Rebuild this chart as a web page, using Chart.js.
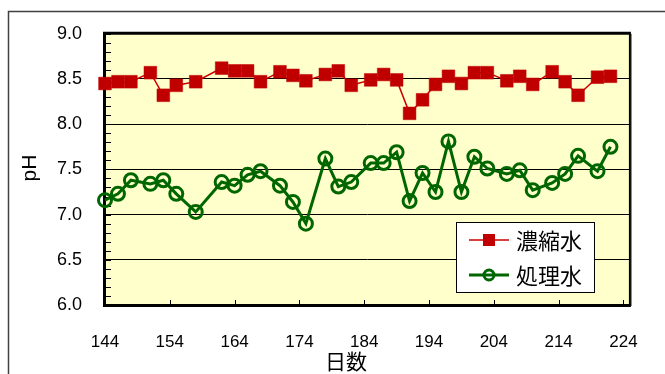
<!DOCTYPE html>
<html><head><meta charset="utf-8">
<script src="https://cdn.jsdelivr.net/npm/chart.js@4/dist/chart.umd.min.js"></script>
<style>html,body{margin:0;padding:0;background:#fff;}#wrap{width:665px;height:374px;position:relative;}</style>
</head><body><div id="wrap"><canvas id="c" width="665" height="374"></canvas></div>
<script>
const days = [144,146,148,151,153,155,158,162,164,166,168,171,173,175,178,180,182,185,187,189,191,193,195,197,199,201,203,206,208,210,213,215,217,220,222];
const concentrate = [8.45,8.47,8.47,8.57,8.32,8.43,8.47,8.62,8.59,8.59,8.47,8.58,8.54,8.48,8.55,8.59,8.43,8.49,8.55,8.49,8.12,8.27,8.44,8.53,8.45,8.57,8.57,8.48,8.53,8.44,8.58,8.47,8.32,8.52,8.53];
const treated = [7.16,7.23,7.38,7.34,7.38,7.23,7.03,7.36,7.32,7.44,7.48,7.32,7.14,6.90,7.62,7.31,7.36,7.57,7.57,7.69,7.15,7.46,7.25,7.81,7.25,7.64,7.51,7.45,7.49,7.27,7.35,7.45,7.65,7.48,7.75];
const xTicks = [144,154,164,174,184,194,204,214,224];
const yTicks = [6.0,6.5,7.0,7.5,8.0,8.5,9.0];
const seriesNames = ['濃縮水','処理水'];
const xTitle = '日数';
const yTitle = 'pH';

const JP = '"Noto Sans CJK JP", sans-serif';
const LAT = '"Liberation Sans", Arial, sans-serif';

const decor = {
  id: 'decor',
  beforeDraw(chart) {
    const {ctx, chartArea: a} = chart;
    ctx.save();
    ctx.fillStyle = '#fff';
    ctx.fillRect(0, 0, chart.width, chart.height);
    ctx.strokeStyle = '#404040';
    ctx.lineWidth = 1.5;
    ctx.strokeRect(8.5, 11.5, chart.width + 40, chart.height + 40);
    ctx.fillStyle = '#FFFFCC';
    ctx.fillRect(a.left, a.top, a.width, a.height);
    ctx.restore();
  },
  beforeDatasetsDraw(chart) {
    const {ctx, chartArea: a, scales} = chart;
    const ys = scales.y, xs = scales.x;
    ctx.save();
    ctx.strokeStyle = '#000';
    ctx.lineWidth = 1;
    ctx.beginPath();
    for (let i = 0; i <= 30; i++) {
      const v = 6 + i / 10;
      const y = Math.round(ys.getPixelForValue(v)) + 0.5;
      ctx.moveTo(a.left, y); ctx.lineTo(a.left + 6, y);
    }
    xTicks.forEach(v => {
      const x = Math.round(xs.getPixelForValue(v)) + 0.5;
      ctx.moveTo(x, a.bottom); ctx.lineTo(x, a.bottom - 5);
    });
    ctx.stroke();
    ctx.strokeStyle = '#808080';
    ctx.lineWidth = 1;
    ctx.beginPath(); ctx.moveTo(a.right + 1.5, a.top); ctx.lineTo(a.right + 1.5, a.bottom + 1); ctx.stroke();
    ctx.strokeStyle = '#000';
    ctx.lineWidth = 2;
    ctx.beginPath(); ctx.moveTo(a.right, a.top); ctx.lineTo(a.right, a.bottom); ctx.stroke();
    ctx.lineWidth = 3;
    ctx.beginPath();
    ctx.moveTo(a.right + 1, a.top - 0.5);
    ctx.lineTo(a.left - 0.5, a.top - 0.5);
    ctx.lineTo(a.left - 0.5, a.bottom + 0.5);
    ctx.lineTo(a.right + 1, a.bottom + 0.5);
    ctx.stroke();
    ctx.restore();
  },
  afterDraw(chart) {
    const {ctx} = chart;
    ctx.save();
    ctx.fillStyle = '#000';
    ctx.textAlign = 'center';
    ctx.textBaseline = 'middle';
    ctx.font = '21px ' + JP;
    ctx.fillText(xTitle, 346, 361);
    ctx.save();
    ctx.translate(30, 168);
    ctx.rotate(-Math.PI / 2);
    ctx.font = '21px ' + LAT;
    ctx.fillText(yTitle, 0, 0);
    ctx.restore();
    const lx = 456, ly = 222, lw = 138, lh = 70;
    ctx.fillStyle = '#fff';
    ctx.fillRect(lx, ly, lw, lh);
    ctx.strokeStyle = '#000';
    ctx.lineWidth = 1;
    ctx.strokeRect(lx + 0.5, ly + 0.5, lw, lh);
    const rows = [240, 275];
    chart.data.datasets.forEach((ds, i) => {
      const y = rows[i];
      ctx.strokeStyle = ds.borderColor;
      ctx.lineWidth = ds.borderWidth;
      ctx.beginPath(); ctx.moveTo(469, y); ctx.lineTo(509, y); ctx.stroke();
      ctx.fillStyle = ds.pointBackgroundColor;
      ctx.strokeStyle = ds.pointBorderColor;
      ctx.lineWidth = ds.pointBorderWidth;
      ctx.beginPath();
      if (ds.pointStyle === 'rect') {
        const s = ds.legendRadius;
        ctx.rect(489 - s, y - s, 2 * s, 2 * s);
        ctx.fill();
      } else {
        ctx.arc(489, y, ds.legendRadius, 0, Math.PI * 2);
        ctx.stroke();
      }
      ctx.fillStyle = '#000';
      ctx.textAlign = 'left';
      ctx.textBaseline = 'middle';
      ctx.font = '22px ' + JP;
      ctx.fillText(seriesNames[i], 516, y + 1);
    });
    ctx.restore();
  }
};

new Chart(document.getElementById('c'), {
  type: 'line',
  data: {
    datasets: [
      {
        label: seriesNames[0],
        data: days.map((d, i) => ({x: d, y: concentrate[i]})),
        borderColor: '#CC0000',
        borderWidth: 1.5,
        pointStyle: 'rect',
        pointRadius: 9,
        pointBackgroundColor: '#C00000',
        pointBorderColor: '#C00000',
        pointBorderWidth: 0.5,
        legendRadius: 6,
        tension: 0,
        clip: false
      },
      {
        label: seriesNames[1],
        data: days.map((d, i) => ({x: d, y: treated[i]})),
        borderColor: '#006600',
        borderWidth: 3,
        pointStyle: 'circle',
        pointRadius: 6.5,
        pointBackgroundColor: 'rgba(0,0,0,0)',
        pointBorderColor: '#006600',
        pointBorderWidth: 3,
        legendRadius: 5,
        tension: 0,
        clip: false
      }
    ]
  },
  options: {
    responsive: false,
    animation: false,
    devicePixelRatio: 1,
    layout: {padding: {left: 0, top: 31, right: 31, bottom: 0}},
    plugins: {legend: {display: false}, tooltip: {enabled: false}},
    scales: {
      x: {
        type: 'linear', min: 144, max: 225,
        afterBuildTicks: s => { s.ticks = xTicks.map(v => ({value: v})); },
        afterFit: s => { s.height = 69; },
        grid: {display: false, drawTicks: false},
        border: {display: false},
        ticks: {color: '#000', font: {family: LAT, size: 17}, padding: 27, maxRotation: 0, autoSkip: false}
      },
      y: {
        type: 'linear', min: 6, max: 9,
        afterBuildTicks: s => { s.ticks = yTicks.map(v => ({value: v})); },
        afterFit: s => { s.width = 105; },
        grid: {color: '#000', lineWidth: 1, drawTicks: false},
        border: {display: false},
        ticks: {color: '#000', font: {family: LAT, size: 18}, padding: 23, callback: v => Number(v).toFixed(1)}
      }
    }
  },
  plugins: [decor]
});
</script>
</body></html>
